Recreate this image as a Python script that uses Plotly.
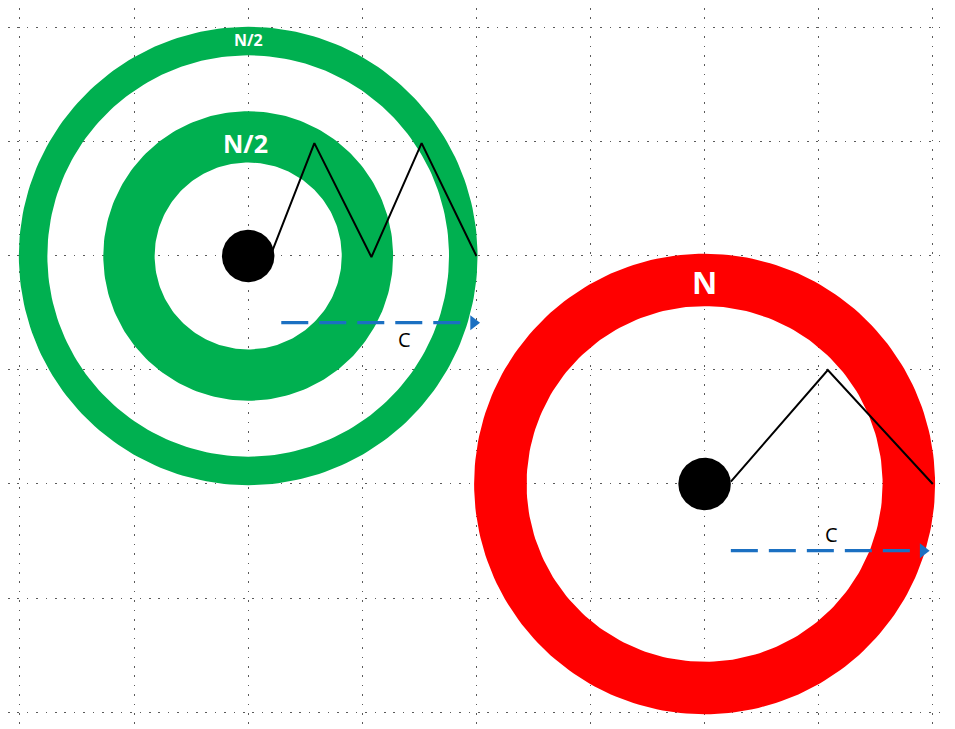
import numpy as np
import plotly.graph_objects as go

# ---- data (grid units; y grows downward) ----
ring_centers_x = [2.0, 2.0, 6.0]
ring_centers_y = [2.0, 2.0, 4.0]
ring_outer_r = [2.01, 1.27, 2.02]
ring_inner_r = [1.76, 0.82, 1.56]
ring_colors = ["#00B050", "#00B050", "#FF0000"]

dot_centers_x = [2.0, 6.0]
dot_centers_y = [2.0, 4.0]
dot_radius = [0.23, 0.23]

zig_green_x = [2.21, 2.58, 3.08, 3.52, 4.0]
zig_green_y = [1.96, 1.01, 2.01, 1.01, 2.0]
zig_red_x = [6.23, 7.08, 8.0]
zig_red_y = [3.98, 3.0, 4.0]

arrow_x0 = [2.29, 6.23]
arrow_x1 = [4.05, 7.99]
arrow_y = [2.585, 4.585]

ring_labels = ["N/2", "N/2", "N"]
ring_label_x = [2.0, 1.98, 6.0]
ring_label_y = [0.11, 1.01, 2.23]
ring_label_size = [16, 25, 31]

c_labels = ["C", "C"]
c_label_x = [3.37, 7.11]
c_label_y = [2.73, 4.44]

grid_x = list(range(0, 9))
grid_y = list(range(0, 7))

fig = go.Figure()

t = np.linspace(0, 2 * np.pi, 241)
for cx, cy, ro, ri, col in zip(ring_centers_x, ring_centers_y, ring_outer_r, ring_inner_r, ring_colors):
    xs = np.concatenate([cx + ro * np.cos(t), cx + ri * np.cos(t[::-1])])
    ys = np.concatenate([cy + ro * np.sin(t), cy + ri * np.sin(t[::-1])])
    fig.add_trace(go.Scatter(x=xs, y=ys, mode="lines", fill="toself", fillcolor=col,
                             line=dict(width=0, color=col), hoverinfo="skip", showlegend=False))

for cx, cy, r in zip(dot_centers_x, dot_centers_y, dot_radius):
    fig.add_trace(go.Scatter(x=cx + r * np.cos(t), y=cy + r * np.sin(t), mode="lines", fill="toself",
                             fillcolor="black", line=dict(width=0, color="black"),
                             hoverinfo="skip", showlegend=False))

for zx, zy in [(zig_green_x, zig_green_y), (zig_red_x, zig_red_y)]:
    fig.add_trace(go.Scatter(x=zx, y=zy, mode="lines", line=dict(color="black", width=2),
                             hoverinfo="skip", showlegend=False))

head = 0.075
for x0, x1, y in zip(arrow_x0, arrow_x1, arrow_y):
    fig.add_trace(go.Scatter(x=[x0, x1 - head], y=[y, y], mode="lines",
                             line=dict(color="#1B70C2", width=3.3, dash="27px,11px"),
                             hoverinfo="skip", showlegend=False))
    fig.add_trace(go.Scatter(x=[x1 - head], y=[y], mode="markers",
                             marker=dict(symbol="triangle-right", size=13, color="#1B70C2",
                                         line=dict(width=0)),
                             hoverinfo="skip", showlegend=False))

for txt, x, y, s in zip(ring_labels, ring_label_x, ring_label_y, ring_label_size):
    fig.add_annotation(x=x, y=y, text="<b>%s</b>" % txt, showarrow=False,
                       font=dict(family="Open Sans, Lato, sans-serif", size=s, color="white"))

for txt, x, y in zip(c_labels, c_label_x, c_label_y):
    fig.add_annotation(x=x, y=y, text=txt, showarrow=False,
                       font=dict(family="Open Sans, Lato, sans-serif", size=20, color="black"))

gridstyle = dict(showgrid=True, gridcolor="#5a5a5a", gridwidth=1.3, griddash="1.5px,7.9px",
                 zeroline=False, showticklabels=False, ticks="", showline=False)
fig.update_xaxes(range=[-0.105, 8.177], tickvals=grid_x, **gridstyle)
fig.update_yaxes(range=[6.149, -0.175], tickvals=grid_y, **gridstyle)

fig.update_layout(width=945, height=721, margin=dict(l=0, r=0, t=0, b=0),
                  plot_bgcolor="white", paper_bgcolor="white", showlegend=False)

fig.write_html("out.html")
